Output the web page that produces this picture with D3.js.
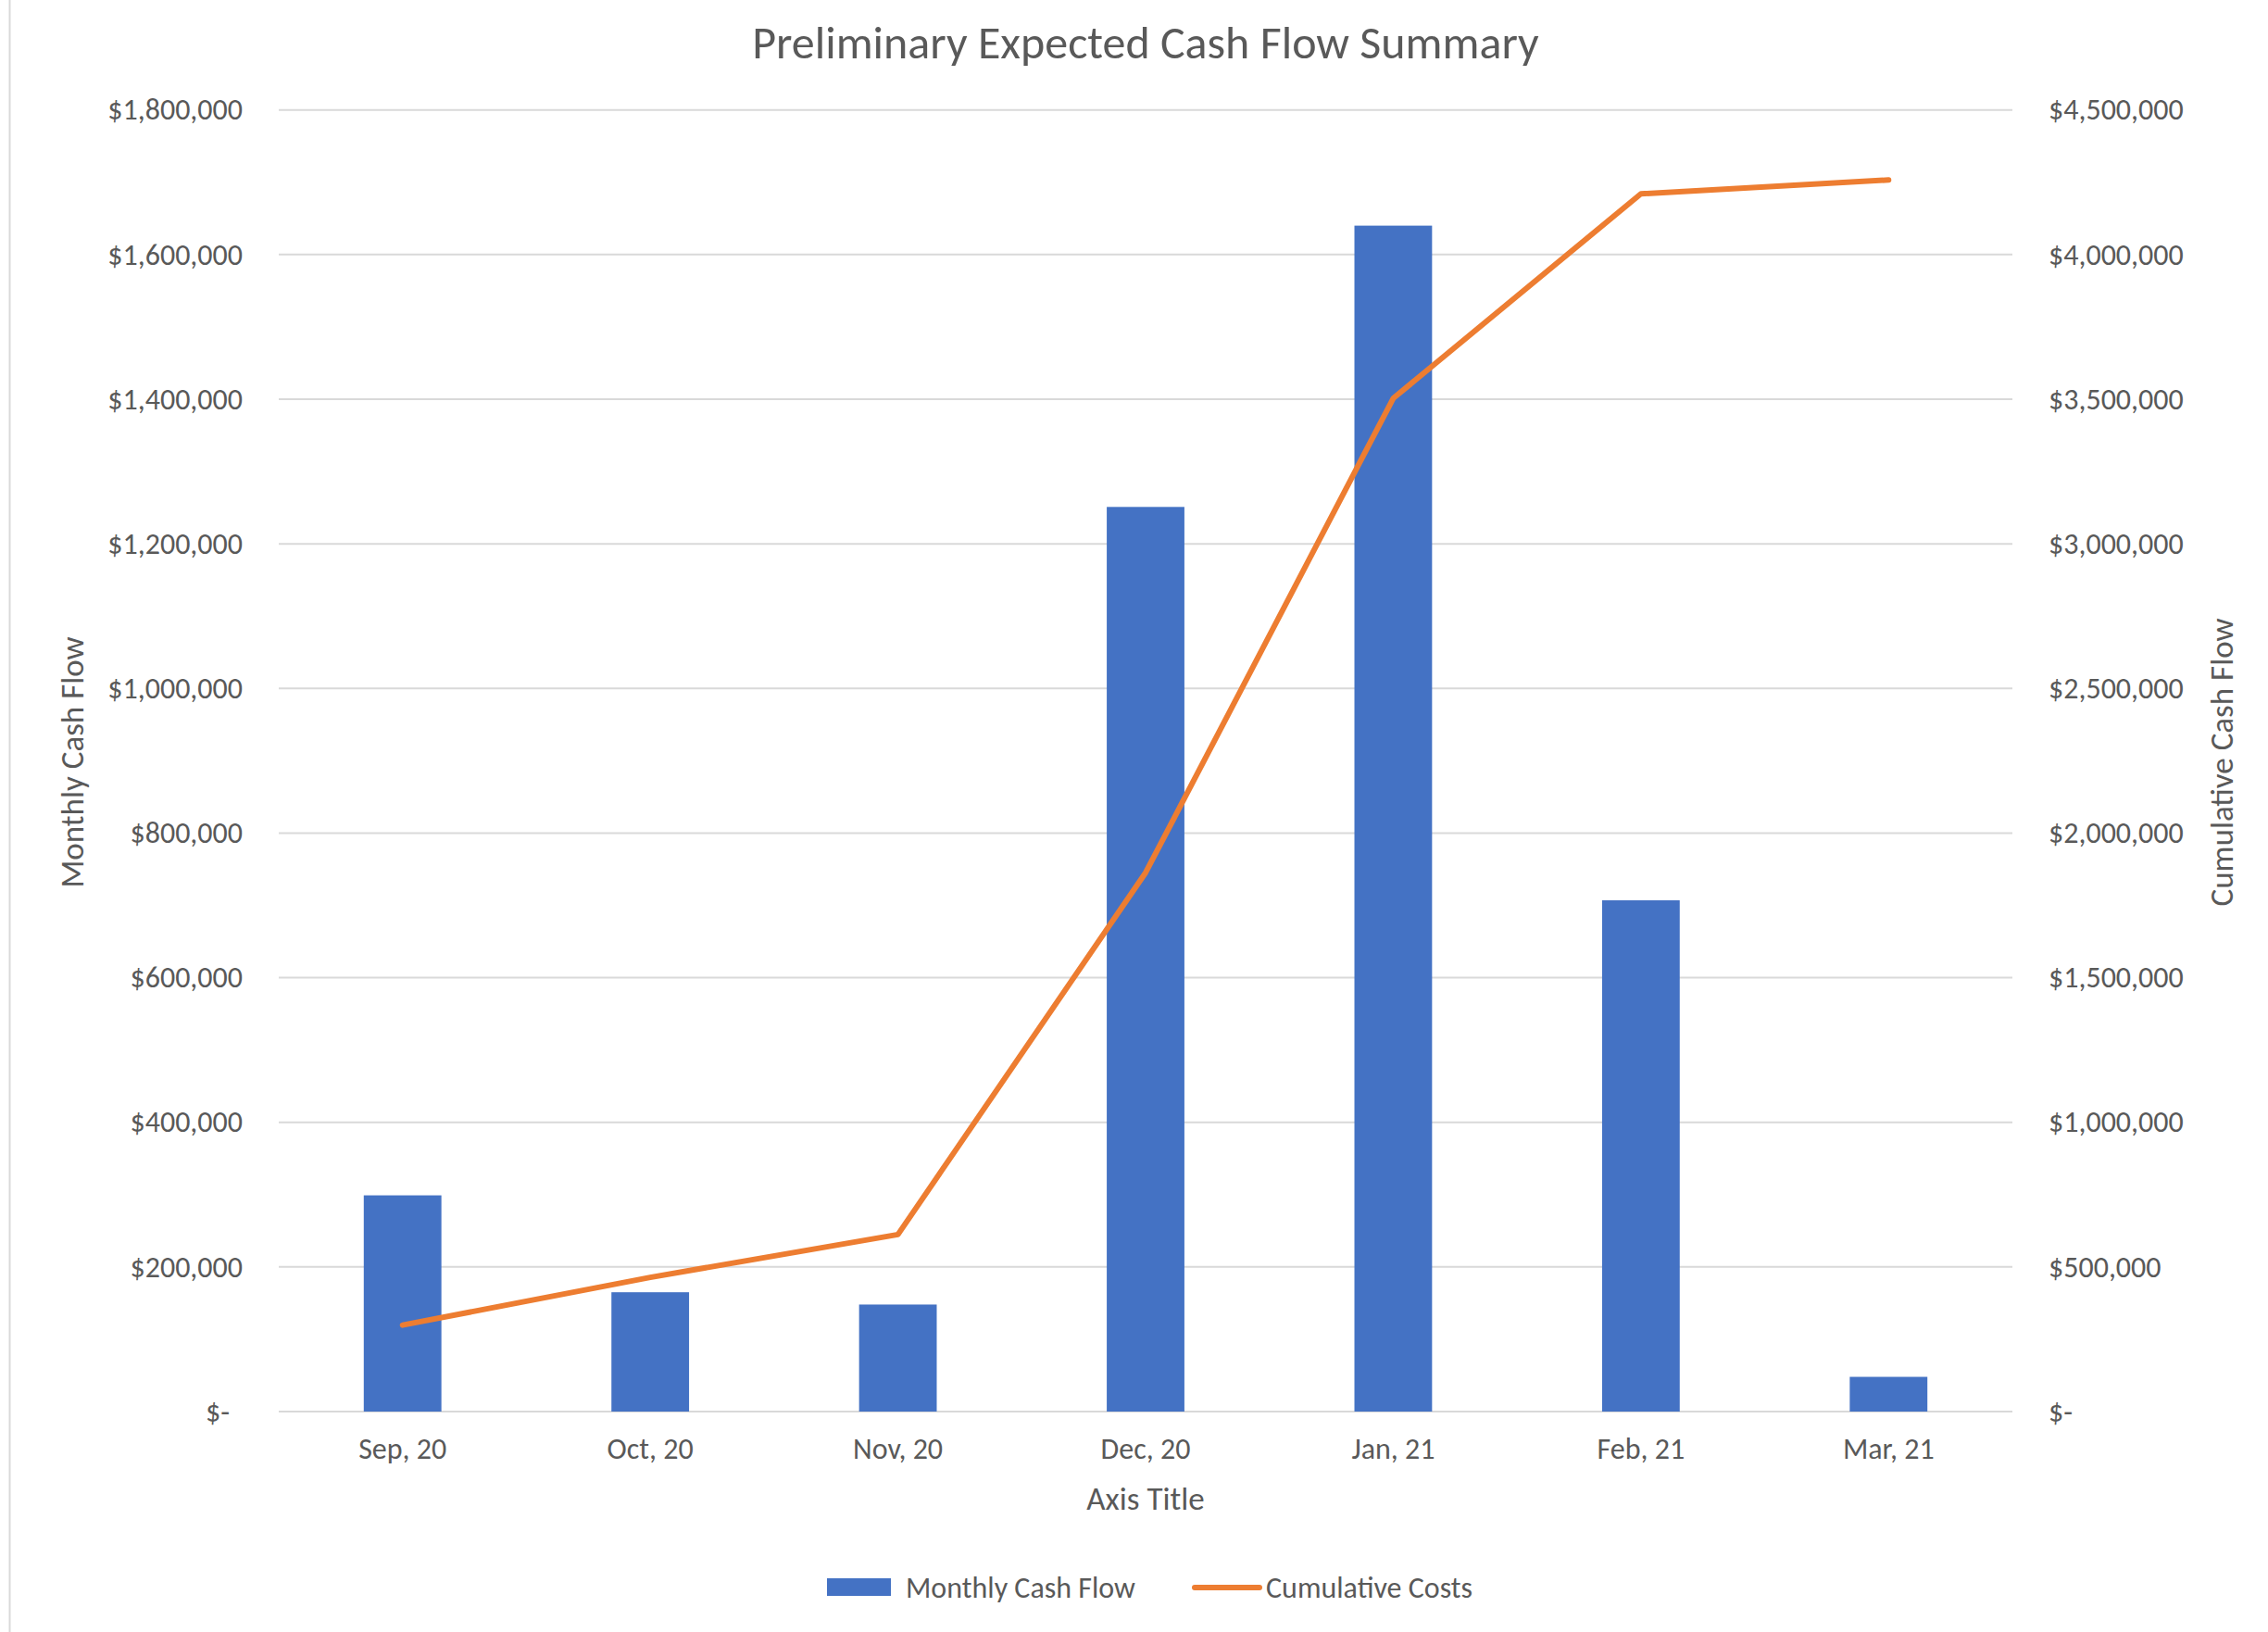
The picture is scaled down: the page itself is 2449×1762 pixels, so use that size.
<!DOCTYPE html>
<html>
<head>
<meta charset="utf-8">
<script src="https://cdn.jsdelivr.net/npm/d3@7"></script>
<style>
  html, body { margin: 0; padding: 0; background: #ffffff; }
  svg { display: block; }
  text { font-family: Carlito, Calibri, Lato, "Open Sans", sans-serif; fill: #595959; }
</style>
</head>
<body>
<svg id="chart" width="2449" height="1762"></svg>
<script>
// Monthly and cumulative cash flow, Sep 2020 – Mar 2021
const months = ["Sep, 20", "Oct, 20", "Nov, 20", "Dec, 20", "Jan, 21", "Feb, 21", "Mar, 21"];
const monthlyCashFlow = [299000, 165000, 148000, 1251000, 1640000, 707000, 48000];
const cumulativeCosts = [299000, 464000, 612000, 1863000, 3503000, 4210000, 4258000];
const leftTicks = [0, 200000, 400000, 600000, 800000, 1000000, 1200000, 1400000, 1600000, 1800000];
const rightTicks = [0, 500000, 1000000, 1500000, 2000000, 2500000, 3000000, 3500000, 4000000, 4500000];
const seriesNames = ["Monthly Cash Flow", "Cumulative Costs"];

const BLUE = "#4472C4", ORANGE = "#ED7D31", GRID = "#D9D9D9";

const svg = d3.select("#chart");
const plot = { left: 301, right: 2173, top: 118.7, bottom: 1524 };

const x = d3.scaleBand().domain(months).range([plot.left, plot.right]).paddingInner(0).paddingOuter(0);
const yL = d3.scaleLinear().domain([0, 1800000]).range([plot.bottom, plot.top]);
const yR = d3.scaleLinear().domain([0, 4500000]).range([plot.bottom, plot.top]);

const money = v => v === 0 ? "$-" : "$" + d3.format(",")(v);

// outer chart border (left edge)
svg.append("line").attr("x1", 10.5).attr("x2", 10.5).attr("y1", 0).attr("y2", 1762)
  .attr("stroke", GRID).attr("stroke-width", 2);

// title
svg.append("text").attr("x", 1237).attr("y", 45).attr("text-anchor", "middle")
  .attr("dominant-baseline", "central").style("font-size", "50px")
  .text("Preliminary Expected Cash Flow Summary");

// gridlines
svg.append("g").selectAll("line").data(leftTicks).join("line")
  .attr("x1", plot.left).attr("x2", plot.right)
  .attr("y1", d => yL(d)).attr("y2", d => yL(d))
  .attr("stroke", GRID).attr("stroke-width", 2);

// left axis labels
const axL = svg.append("g").attr("transform", `translate(${262},0)`)
  .call(d3.axisLeft(yL).tickValues(leftTicks).tickFormat(money).tickSize(0).tickPadding(0));
axL.select(".domain").remove();
axL.selectAll("text").style("font-size", "32px").attr("fill", "#595959")
  .attr("dx", d => d === 0 ? -14 : 0);

// right axis labels
const axR = svg.append("g").attr("transform", `translate(${2212},0)`)
  .call(d3.axisRight(yR).tickValues(rightTicks).tickFormat(money).tickSize(0).tickPadding(0));
axR.select(".domain").remove();
axR.selectAll("text").style("font-size", "32px").attr("fill", "#595959");

// bars
const bw = x.bandwidth() / 3.19;
svg.append("g").selectAll("rect").data(monthlyCashFlow).join("rect")
  .attr("x", (d, i) => x(months[i]) + x.bandwidth() / 2 - bw / 2)
  .attr("width", bw)
  .attr("y", d => yL(d))
  .attr("height", d => yL(0) - yL(d))
  .attr("fill", BLUE);

// cumulative line
const line = d3.line()
  .x((d, i) => x(months[i]) + x.bandwidth() / 2)
  .y(d => yR(d));
svg.append("path").datum(cumulativeCosts).attr("d", line)
  .attr("fill", "none").attr("stroke", ORANGE).attr("stroke-width", 6)
  .attr("stroke-linejoin", "round").attr("stroke-linecap", "round");

// category labels
const axX = svg.append("g").attr("transform", `translate(0,${plot.bottom})`)
  .call(d3.axisBottom(x).tickSize(0).tickPadding(28));
axX.select(".domain").remove();
axX.selectAll("text").style("font-size", "32px").attr("fill", "#595959");

// axis titles
svg.append("text").attr("x", 1237).attr("y", 1618).attr("text-anchor", "middle")
  .attr("dominant-baseline", "central").style("font-size", "35px").text("Axis Title");
svg.append("text").attr("transform", "translate(78,823) rotate(-90)").attr("text-anchor", "middle")
  .attr("dominant-baseline", "central").style("font-size", "35px").text("Monthly Cash Flow");
svg.append("text").attr("transform", "translate(2399,823) rotate(-90)").attr("text-anchor", "middle")
  .attr("dominant-baseline", "central").style("font-size", "35px").text("Cumulative Cash Flow");

// legend
const lg = svg.append("g");
lg.append("rect").attr("x", 893).attr("y", 1704).attr("width", 69).attr("height", 19).attr("fill", BLUE);
lg.append("text").attr("x", 978).attr("y", 1714).attr("dominant-baseline", "central")
  .style("font-size", "32px").text(seriesNames[0]);
lg.append("line").attr("x1", 1290).attr("x2", 1360).attr("y1", 1714).attr("y2", 1714)
  .attr("stroke", ORANGE).attr("stroke-width", 6).attr("stroke-linecap", "round");
lg.append("text").attr("x", 1367).attr("y", 1714).attr("dominant-baseline", "central")
  .style("font-size", "32px").text(seriesNames[1]);
</script>
</body>
</html>
